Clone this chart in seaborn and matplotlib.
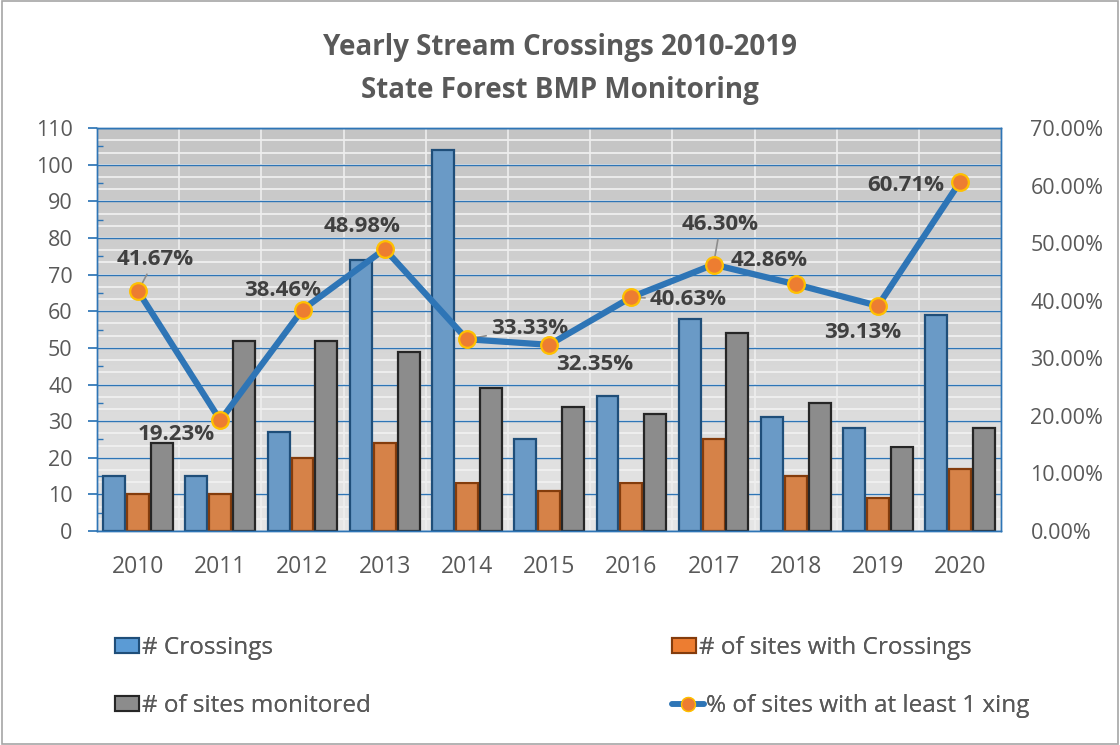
import numpy as np
import pandas as pd
import matplotlib
matplotlib.use("Agg")
import matplotlib.pyplot as plt
import seaborn as sns
from matplotlib.lines import Line2D
from matplotlib.patches import Patch

years = ["2010", "2011", "2012", "2013", "2014", "2015", "2016", "2017", "2018", "2019", "2020"]
crossings = [15, 15, 27, 74, 104, 25, 37, 58, 31, 28, 59]
sites_with_crossings = [10, 10, 20, 24, 13, 11, 13, 25, 15, 9, 17]
sites_monitored = [24, 52, 52, 49, 39, 34, 32, 54, 35, 23, 28]
pct_sites = [41.67, 19.23, 38.46, 48.98, 33.33, 32.35, 40.63, 46.30, 42.86, 39.13, 60.71]

series_names = ["# Crossings", "# of sites with Crossings", "# of sites monitored"]
line_name = "% of sites with at least 1 xing"

# label offsets (points) for each percentage label, and whether a leader line is drawn
label_offsets = [(12, 23), (-32, -10), (-14, 14), (-16, 16), (45, 8), (33, -14),
                 (41, -2), (5, 29), (-19, 17), (-11, -19), (-39, -3)]
leaders = [True, False, False, False, True, False, True, True, False, False, False]

df = pd.DataFrame({"year": years, series_names[0]: crossings,
                   series_names[1]: sites_with_crossings, series_names[2]: sites_monitored})
long = df.melt(id_vars="year", var_name="series", value_name="value")

sns.set_theme(style="white")
plt.rcParams["font.family"] = ["Open Sans", "DejaVu Sans"]

blue = "#5b9bd5"
orange = "#ed7d31"
gray = "#8c8c8c"
edge_colors = ["#1f4e79", "#843c0c", "#262626"]
text_col = "#595959"
axis_blue = "#2e75b6"

fig = plt.figure(figsize=(11.2, 7.45), dpi=100)
ax = fig.add_axes([0.0866, 0.2872, 0.8074, 0.5408])

# gradient background
grad = np.linspace(0, 1, 256).reshape(-1, 1)
ax.imshow(grad, extent=[0, 1, 0, 1], transform=ax.transAxes, aspect="auto",
          cmap=matplotlib.colors.LinearSegmentedColormap.from_list("bg", ["#e6e6e6", "#c4c4c4"]),
          zorder=0, origin="lower")

for y in np.arange(0, 110.01, 10 / 3):
    ax.axhline(y, color="#f2f2f2", lw=1.2, zorder=0.5)
for x in np.arange(0.5, len(years) - 0.5, 1):
    ax.axvline(x, color="#eeeeee", lw=1.2, zorder=0.6)
for y in np.arange(0, 110.01, 10):
    ax.axhline(y, color=axis_blue, lw=1.0, zorder=0.7)

sns.barplot(data=long, x="year", y="value", hue="series", ax=ax,
            palette=[blue, orange, gray], width=0.87, gap=0.08, legend=False, zorder=2)
for bars, ec in zip(ax.containers, edge_colors):
    for b in bars:
        b.set_edgecolor(ec)
        b.set_linewidth(1.6)

ax.set_xlim(-0.5, len(years) - 0.5)
ax.set_ylim(0, 110)
ax.set_yticks(np.arange(0, 111, 10))
ax.set_yticks(np.arange(5, 110, 10), minor=True)
ax.tick_params(axis="y", which="major", direction="out", length=6.5, color=axis_blue,
               labelsize=15.5, labelcolor=text_col, pad=11, left=True)
ax.tick_params(axis="y", which="minor", direction="in", length=4, color=axis_blue, left=True)
ax.tick_params(axis="x", length=0, labelsize=16.5, labelcolor=text_col, pad=17)
ax.set_xlabel("")
ax.set_ylabel("")
for s in ax.spines.values():
    s.set_color(axis_blue)
    s.set_linewidth(1.0)

ax2 = ax.twinx()
sns.lineplot(x=list(range(len(years))), y=pct_sites, ax=ax2, color=axis_blue, lw=4.5,
             marker="o", markersize=12, markerfacecolor=orange, markeredgecolor="#ffc000",
             markeredgewidth=1.6, zorder=5)
ax2.set_ylim(0, 70)
ax2.set_yticks(np.arange(0, 71, 10))
ax2.set_yticklabels([f"{v:.2f}%" for v in np.arange(0, 71, 10)])
ax2.tick_params(axis="y", length=0, labelsize=15.5, labelcolor=text_col, pad=21)
for s in ax2.spines.values():
    s.set_color(axis_blue)
    s.set_linewidth(1.0)
ax2.grid(False)

for i, (v, off, lead) in enumerate(zip(pct_sites, label_offsets, leaders)):
    arrow = dict(arrowstyle="-", color="#8c8c8c", lw=1.2, shrinkA=1, shrinkB=2) if lead else None
    ax2.annotate(f"{v:.2f}%", xy=(i, v), xytext=off, textcoords="offset points",
                 ha="center", va="center", fontsize=16, fontweight="bold", color="#404040",
                 arrowprops=arrow, zorder=4)

fig.text(0.5, 0.9356, "Yearly Stream Crossings 2010-2019", ha="center", va="center",
         fontsize=20, fontweight="bold", color=text_col)
fig.text(0.5, 0.879, "State Forest BMP Monitoring", ha="center", va="center",
         fontsize=20, fontweight="bold", color=text_col)

handles = [Patch(facecolor=blue, edgecolor=edge_colors[0], lw=1.5),
           Patch(facecolor=orange, edgecolor=edge_colors[1], lw=1.5),
           Patch(facecolor=gray, edgecolor=edge_colors[2], lw=1.5),
           Line2D([0], [0], color=axis_blue, lw=4, marker="o", markersize=10,
                  markerfacecolor=orange, markeredgecolor="#ffc000")]
labels = [series_names[0], series_names[1], series_names[2], line_name]
pos = [(0.1027, 0.1302), (0.6, 0.1302), (0.1027, 0.0523), (0.6, 0.0523)]
hl = [1.0, 1.0, 1.0, 1.3]
for h, l, p, w in zip(handles, labels, pos, hl):
    leg = fig.legend([h], [l], loc="center left", bbox_to_anchor=p, frameon=False,
                     fontsize=17.5, handlelength=w, handleheight=0.55, handletextpad=0.1,
                     borderpad=0, borderaxespad=0, labelcolor=text_col)
    fig.add_artist(leg)

fig.patches.append(matplotlib.patches.Rectangle((0.002, 0.002), 0.996, 0.996,
                                                transform=fig.transFigure, fill=False,
                                                edgecolor="#a6a6a6", lw=1.2))

fig.savefig("out.png", dpi=100)
